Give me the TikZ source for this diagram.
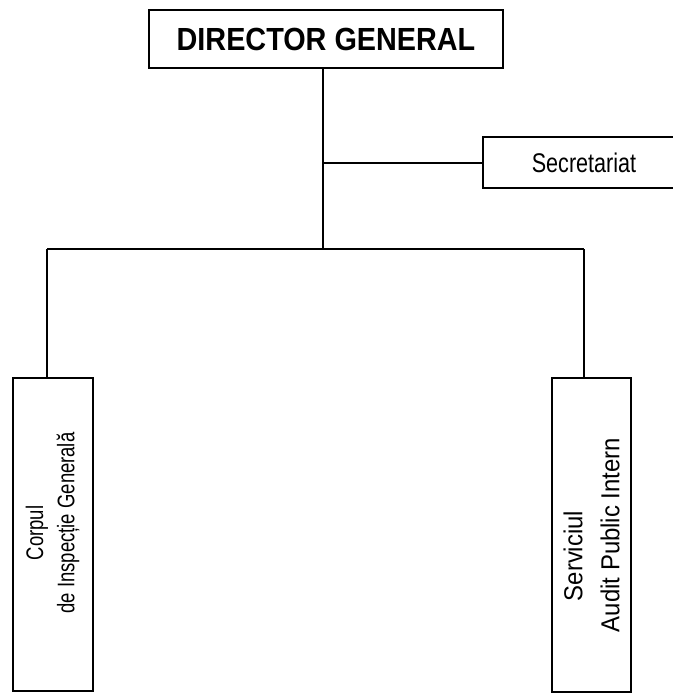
\documentclass[tikz,border=0pt]{standalone}
\usepackage{fontspec}
\setmainfont{Liberation Sans}
\begin{document}
\begin{tikzpicture}[x=1pt,y=-1pt,
  box/.style={draw=black, line width=2pt, inner sep=0pt},
  vbox/.style={box, rotate=90},
  vtext/.style={rotate=90, inner sep=0pt},
  conn/.style={draw=black, line width=2pt}]
\fill[white] (0,0) rectangle (672,693);
\useasboundingbox (0,0) rectangle (672,693);
\node[box, minimum width=354pt, minimum height=58pt] (dir) at (326,39)
  {\scalebox{0.9}[1]{\fontsize{32}{36}\selectfont\bfseries DIRECTOR GENERAL}};
\node[box, minimum width=202pt, minimum height=51pt] (sec) at (584,162.5)
  {\scalebox{0.8}[1]{\fontsize{27}{30}\selectfont Secretariat}};
\node[vbox, minimum width=313pt, minimum height=80pt] (cig) at (53,534.5) {};
\node[vtext, font=\fontsize{24}{28}\selectfont] (cig1) at (37,533)
  {\scalebox{0.77}[1]{Corpul}};
\node[vtext, font=\fontsize{24}{28}\selectfont] (cig2) at (68,523)
  {\scalebox{0.77}[1]{de Inspecție Generală}};
\node[vbox, minimum width=314pt, minimum height=79pt] (sapi) at (591.5,534.5) {};
\node[vtext, font=\fontsize{26}{30}\selectfont] (sapi1) at (573,556)
  {\scalebox{0.92}[1]{Serviciul}};
\node[vtext, font=\fontsize{26}{30}\selectfont] (sapi2) at (610,535)
  {\scalebox{0.92}[1]{Audit Public Intern}};
\coordinate (t) at (323,249);
\coordinate (bl) at (47,249);
\coordinate (br) at (584,249);
\draw[conn] (t |- dir.south) -- (t);
\draw[conn] (t |- sec.west) -- (sec.west);
\draw[conn] (bl) -- (br);
\draw[conn] (bl) -- (bl |- cig.east);
\draw[conn] (br) -- (br |- sapi.east);
\end{tikzpicture}
\end{document}
